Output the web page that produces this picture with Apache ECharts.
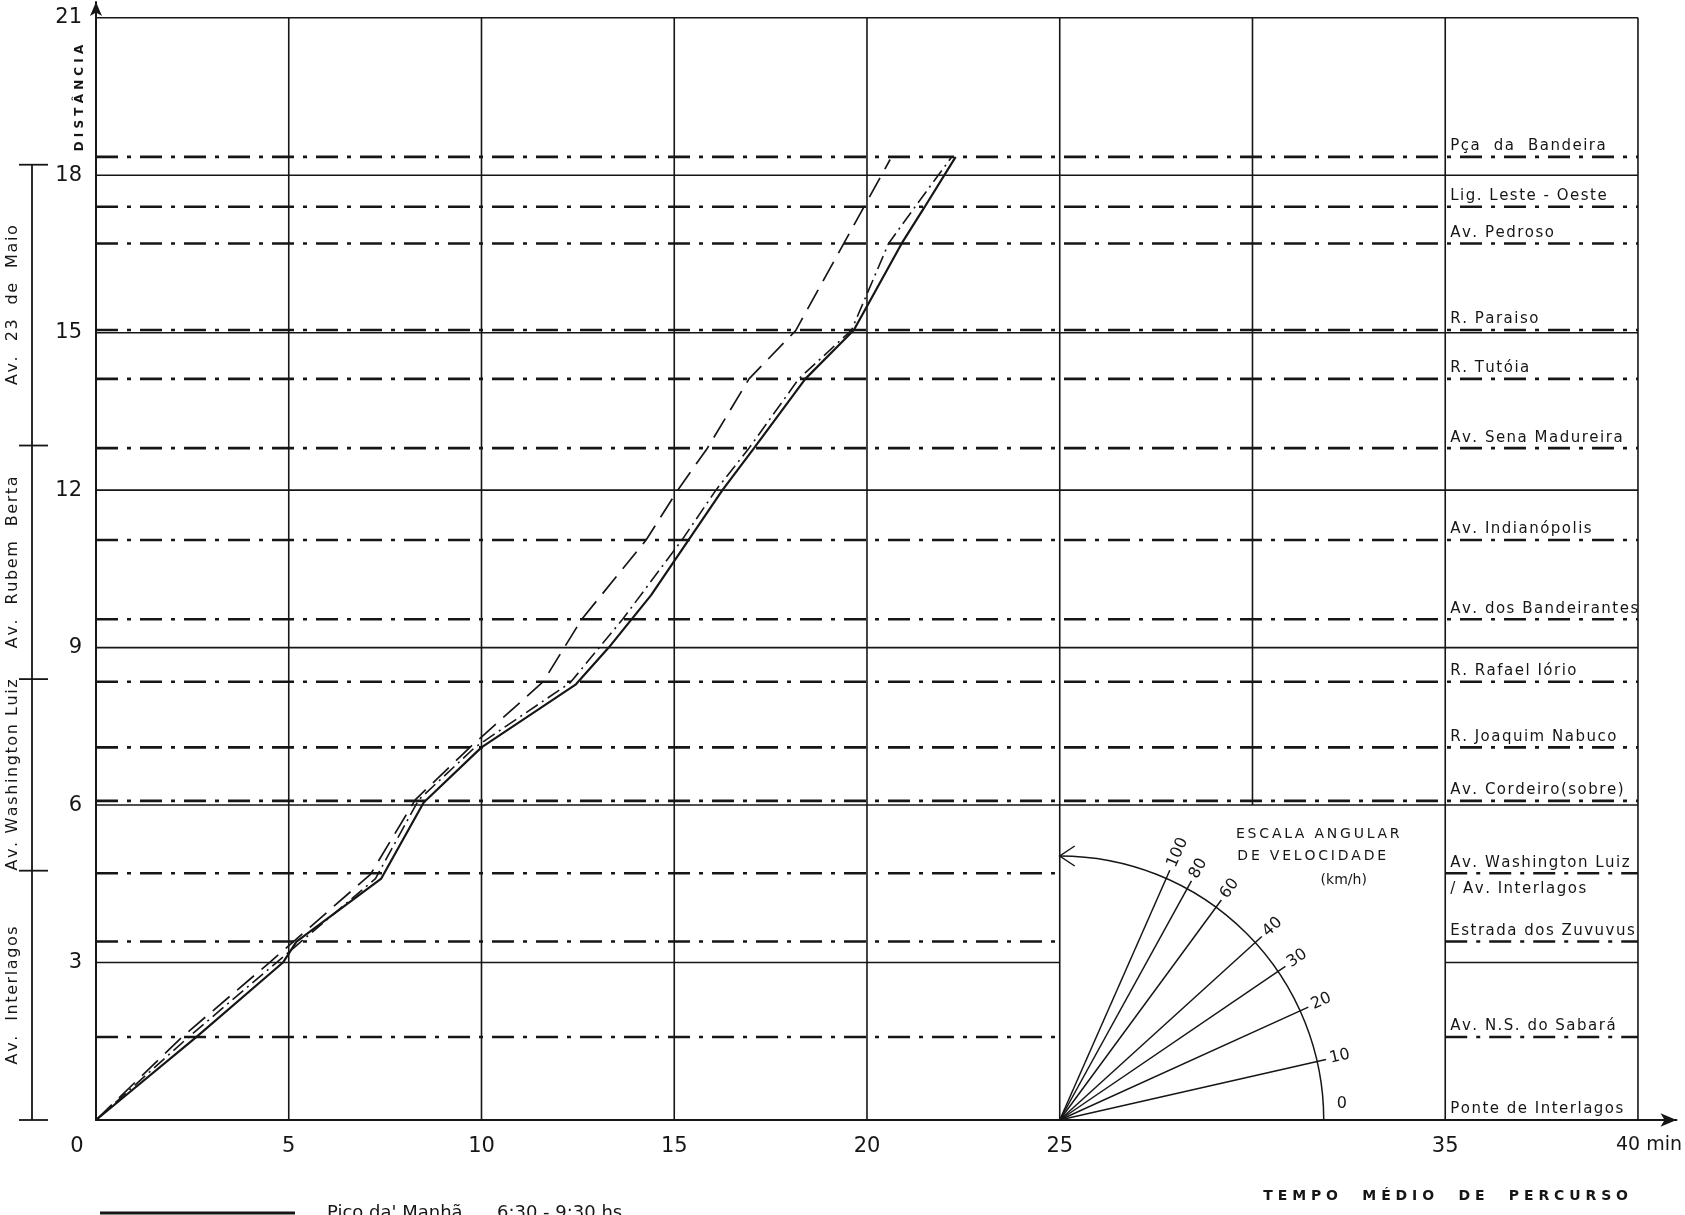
<!DOCTYPE html>
<html>
<head>
<meta charset="utf-8">
<title>Tempo médio de percurso</title>
<script src="https://cdn.jsdelivr.net/npm/echarts@6/dist/echarts.min.js"></script>
<style>html,body{margin:0;background:#fff;}</style>
</head>
<body>
<div id="main" style="width:1685px;height:1215px;"></div>
<script>
// eixos: tempo (min) x distância (km)
var xTicks = [0, 5, 10, 15, 20, 25, 30, 35, 40];
var yTicks = [0, 3, 6, 9, 12, 15, 18, 21];

// cruzamentos ao longo do percurso (coluna da direita)
var streetNames = [
  'Pça  da  Bandeira', 'Lig. Leste - Oeste', 'Av. Pedroso', 'R. Paraiso', 'R. Tutóia',
  'Av. Sena Madureira', 'Av. Indianópolis', 'Av. dos Bandeirantes', 'R. Rafael Iório',
  'R. Joaquim Nabuco', 'Av. Cordeiro(sobre)', 'Av. Washington Luiz\n/ Av. Interlagos',
  'Estrada dos Zuvuvus', 'Av. N.S. do Sabará', 'Ponte de Interlagos'
];
var streetKm = [18.35, 17.4, 16.7, 15.05, 14.12, 12.8, 11.05, 9.54, 8.35, 7.1, 6.08, 4.7, 3.4, 1.58, 0];

// vias (chave à esquerda)
var roadNames = ['Av.  Interlagos', 'Av. Washington Luiz', 'Av.  Rubem  Berta', 'Av.  23  de  Maio'];
var roadBounds = [0, 4.75, 8.4, 12.85, 18.2];

// escala angular de velocidade (km/h)
var speeds = [0, 10, 20, 30, 40, 60, 80, 100];

// curvas tempo x distância [min, km]
var picoManha = [[0,0],[2.6,1.58],[4.85,3.0],[5.2,3.4],[7.4,4.6],[8.5,6.05],[10.0,7.1],[12.45,8.3],
  [13.3,9.0],[14.4,10.0],[16.25,12.0],[17.07,12.8],[18.4,14.12],[19.66,15.05],[20.9,16.7],[21.5,17.4],[22.3,18.35]];
var curvaTracejada = [[0,0],[2.23,1.58],[4.5,3.0],[7.12,4.68],[8.28,6.1],[9.7,7.1],[11.6,8.35],[12.6,9.54],
  [14.27,11.05],[15.09,12.0],[15.86,12.8],[16.94,14.12],[18.15,15.04],[20.6,18.3]];
var curvaTracoPonto = [[0,0],[2.4,1.58],[4.68,3.0],[7.25,4.6],[8.37,6.1],[9.83,7.1],[12.3,8.33],[13.66,9.54],
  [15.2,11.05],[16.08,12.0],[16.94,12.8],[18.23,14.12],[19.6,15.05],[20.56,16.7],[21.25,17.4],[22.2,18.35]];

var ink = '#161616';
var font = '"DejaVu Sans", sans-serif';
var chart = echarts.init(document.getElementById('main'));

// letreiro espaçado, como no desenho original
function spaced(s, gap) {
  return s.split('').join(gap);
}

function seg(api, a, b, style) {
  var p1 = api.coord(a), p2 = api.coord(b);
  return { type: 'line', shape: { x1: p1[0], y1: p1[1], x2: p2[0], y2: p2[1] }, style: style };
}

// grade: linhas inteiras ou interrompidas na área da escala
function renderFrame(params, api) {
  var solid = { stroke: ink, lineWidth: 1.6, fill: null };
  var kids = [];
  xTicks.forEach(function (x) {
    if (x === 0) return;
    kids.push(seg(api, [x, x === 30 ? 6 : 0], [x, 21], solid));
  });
  yTicks.forEach(function (y) {
    if (y === 0) return;
    if (y < 6) {
      kids.push(seg(api, [0, y], [25, y], solid));
      kids.push(seg(api, [35, y], [40, y], solid));
    } else {
      kids.push(seg(api, [0, y], [40, y], solid));
    }
  });
  return { type: 'group', children: kids };
}

function renderStreets(params, api) {
  var dash = { stroke: ink, lineWidth: 2.6, lineDash: [22, 9, 4, 9], fill: null };
  var kids = [];
  streetKm.forEach(function (km, i) {
    if (km > 0) {
      if (km < 6) {
        kids.push(seg(api, [0, km], [25, km], dash));
        kids.push(seg(api, [35, km], [40, km], dash));
      } else {
        kids.push(seg(api, [0, km], [40, km], dash));
      }
    }
    var p = api.coord([35, km]);
    var lines = streetNames[i].split('\n');
    lines.forEach(function (ln, j) {
      kids.push({
        type: 'text', x: p[0] + 5, y: j === 0 ? p[1] - 3 : p[1] + 8 + (j - 1) * 20,
        style: { text: spaced(ln, '\u200a'), font: '15px ' + font, fill: ink, align: 'left', verticalAlign: j === 0 ? 'bottom' : 'top' }
      });
    });
  });
  return { type: 'group', children: kids };
}

function renderRoads(params, api) {
  var kids = [];
  var pen = { stroke: ink, lineWidth: 1.8, fill: null };
  var bx = api.coord([0, 0])[0] - 64;
  var top = api.coord([0, roadBounds[roadBounds.length - 1]])[1];
  var bot = api.coord([0, 0])[1];
  kids.push({ type: 'line', shape: { x1: bx, y1: top, x2: bx, y2: bot }, style: pen });
  roadBounds.forEach(function (b) {
    var y = api.coord([0, b])[1];
    kids.push({ type: 'line', shape: { x1: bx - 13, y1: y, x2: bx + 16, y2: y }, style: pen });
  });
  roadNames.forEach(function (name, i) {
    var y = api.coord([0, (roadBounds[i] + roadBounds[i + 1]) / 2])[1];
    kids.push({
      type: 'text', x: bx - 19, y: y, rotation: Math.PI / 2,
      style: { text: spaced(name, '\u200a'), font: '16px ' + font, fill: ink, align: 'center', verticalAlign: 'middle' }
    });
  });
  return { type: 'group', children: kids };
}

function renderSpeedScale(params, api) {
  var c = api.coord([25, 0]);
  var pxMin = api.size([1, 0])[0];
  var pxKm = api.size([0, 1])[1];
  var R = 264;
  var pen = { stroke: ink, lineWidth: 1.5, fill: null };
  var kids = [];
  kids.push({ type: 'arc', shape: { cx: c[0], cy: c[1], r: R, startAngle: -Math.PI / 2, endAngle: 0, clockwise: true }, style: pen });
  kids.push({ type: 'polyline', shape: { points: [[c[0] + 15, c[1] - R - 10], [c[0], c[1] - R], [c[0] + 15, c[1] - R + 10]] }, style: pen });
  speeds.forEach(function (v) {
    var a = Math.atan2(v / 60 * pxKm, pxMin);
    var cs = Math.cos(a), sn = Math.sin(a);
    if (v > 0) {
      kids.push({ type: 'line', shape: { x1: c[0], y1: c[1], x2: c[0] + (R + 9) * cs, y2: c[1] - (R + 9) * sn }, style: pen });
    }
    kids.push({
      type: 'text', x: c[0] + (R + 13) * cs, y: c[1] - (R + 13) * sn - (v === 0 ? 16 : 0), rotation: a,
      style: { text: String(v), font: '16px ' + font, fill: ink, align: 'left', verticalAlign: 'middle' }
    });
  });
  var t = { font: '14px ' + font, fill: ink, align: 'center', verticalAlign: 'middle' };
  kids.push({ type: 'text', x: c[0] + 258, y: c[1] - 286, style: Object.assign({ text: spaced('ESCALA ANGULAR', '\u2009') }, t) });
  kids.push({ type: 'text', x: c[0] + 252, y: c[1] - 264, style: Object.assign({ text: spaced('DE VELOCIDADE', '\u2009') }, t) });
  kids.push({ type: 'text', x: c[0] + 284, y: c[1] - 240, style: Object.assign({ text: '(km/h)' }, t) });
  return { type: 'group', children: kids };
}

var option = {
  backgroundColor: '#fff',
  animation: false,
  grid: { left: 96, right: 4, top: 2, bottom: 95 },
  title: {
    text: 'T E M P O     M É D I O     D E     P E R C U R S O',
    right: 52, top: 1184,
    textStyle: { fontFamily: font, fontSize: 14, fontWeight: 'bold', color: ink }
  },
  legend: {
    data: ["Pico da' Manhã"],
    left: 95, top: 1199, itemWidth: 195, itemHeight: 3, selectedMode: false,
    icon: 'rect',
    itemStyle: { color: ink },
    formatter: function () { return "Pico da' Manhã      6:30 - 9:30 hs"; },
    textStyle: { fontFamily: font, fontSize: 18, color: ink, padding: [0, 0, 0, 27] }
  },
  graphic: [{
    type: 'text', x: 80, y: 98, rotation: Math.PI / 2,
    style: { text: 'D I S T Â N C I A', font: 'bold 12px ' + font, fill: ink, align: 'center', verticalAlign: 'middle' }
  }],
  xAxis: {
    type: 'value', min: 0, max: 41, interval: 5,
    axisLine: { show: true, symbol: ['none', 'arrow'], symbolSize: [10, 16], lineStyle: { color: ink, width: 2 } },
    axisTick: { show: false },
    splitLine: { show: false },
    axisLabel: {
      margin: 16, color: ink, fontFamily: font, fontSize: 21,
      formatter: function (v) {
        if (v === 0) return '{z|0}';
        if (v === 40) return '{e|40 min}';
        if (v === 30 || v > 40) return '';
        return String(v);
      },
      rich: {
        z: { fontFamily: font, fontSize: 21, color: ink, padding: [0, 38, 0, 0] },
        e: { fontFamily: font, fontSize: 19, color: ink, padding: [0, 0, 0, 22] }
      }
    }
  },
  yAxis: {
    type: 'value', min: 0, max: 21.3, interval: 3,
    axisLine: { show: true, symbol: ['none', 'arrow'], symbolSize: [9, 14], lineStyle: { color: ink, width: 2 } },
    axisTick: { show: false },
    splitLine: { show: false },
    axisLabel: {
      margin: 14, color: ink, fontFamily: font, fontSize: 21,
      formatter: function (v) { return (v === 0 || v > 21) ? '' : String(v); }
    }
  },
  series: [
    { type: 'custom', name: 'grade', renderItem: renderFrame, data: [[0, 0]], silent: true, z: 1 },
    { type: 'custom', name: 'ruas', renderItem: renderStreets, data: [[0, 0]], silent: true, z: 2 },
    { type: 'custom', name: 'vias', renderItem: renderRoads, data: [[0, 0]], silent: true, z: 2 },
    { type: 'custom', name: 'escala', renderItem: renderSpeedScale, data: [[0, 0]], silent: true, z: 2 },
    {
      name: "Pico da' Manhã", type: 'line', data: picoManha, symbol: 'none', z: 5,
      lineStyle: { color: ink, width: 2.2, type: 'solid' }
    },
    {
      name: 'curva 2', type: 'line', data: curvaTracejada, symbol: 'none', z: 5,
      lineStyle: { color: ink, width: 1.7, type: [22, 10] }
    },
    {
      name: 'curva 3', type: 'line', data: curvaTracoPonto, symbol: 'none', z: 5,
      lineStyle: { color: ink, width: 1.6, type: [14, 5, 2, 5] }
    }
  ]
};

chart.setOption(option);
</script>
</body>
</html>
